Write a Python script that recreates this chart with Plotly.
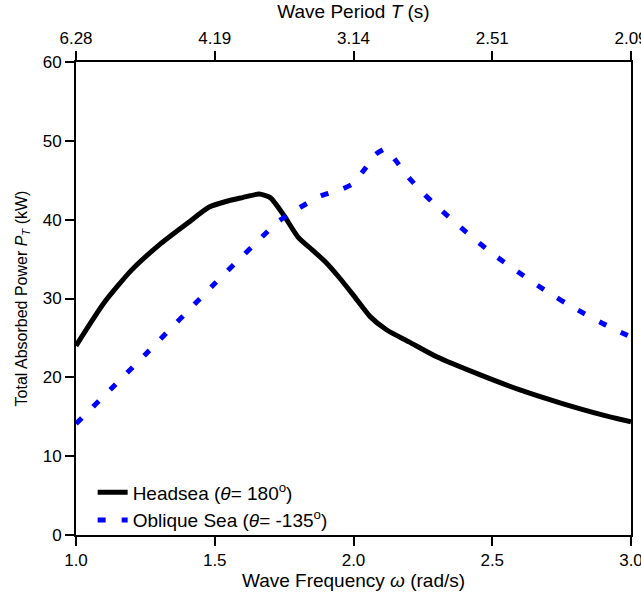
import plotly.graph_objects as go

# ---- data ----
omega_head = [1.0, 1.1, 1.2, 1.3, 1.4, 1.48, 1.55, 1.6, 1.66, 1.7, 1.75, 1.8, 1.85, 1.9,
              1.95, 2.0, 2.06, 2.12, 2.2, 2.3, 2.45, 2.6, 2.75, 2.9, 3.0]
P_head = [24.0, 29.4, 33.6, 36.8, 39.5, 41.6, 42.4, 42.8, 43.25, 42.8, 40.5, 37.8, 36.2, 34.6,
          32.6, 30.4, 27.7, 26.0, 24.5, 22.6, 20.4, 18.4, 16.7, 15.2, 14.35]

omega_obl = [1.0, 1.25, 1.5, 1.67, 1.73, 1.8, 1.88, 1.96, 2.0, 2.04, 2.08, 2.115, 2.15, 2.2,
             2.25, 2.3, 2.4, 2.5, 2.6, 2.7, 2.8, 2.9, 3.0]
P_obl = [14.1, 22.9, 31.9, 37.8, 39.8, 41.4, 43.0, 43.9, 44.6, 46.4, 48.3, 49.0, 47.6, 45.3,
         43.4, 41.7, 38.6, 35.7, 33.2, 30.8, 28.7, 26.8, 25.1]

freq_ticks = [1.0, 1.5, 2.0, 2.5, 3.0]
freq_labels = ["1.0", "1.5", "2.0", "2.5", "3.0"]
period_labels = ["6.28", "4.19", "3.14", "2.51", "2.09"]
power_ticks = [0, 10, 20, 30, 40, 50, 60]

FONT = "Liberation Sans, Arial, sans-serif"

fig = go.Figure()
fig.add_trace(go.Scatter(
    x=omega_head, y=P_head, mode="lines",
    line=dict(color="black", width=5, shape="spline", smoothing=0.6),
    name="Headsea (<i>θ</i>= 180<sup>o</sup>)",
))
fig.add_trace(go.Scatter(
    x=omega_obl, y=P_obl, mode="lines",
    line=dict(color="#0000ff", width=5, dash="8px,16px", shape="spline", smoothing=0.4),
    name="Oblique Sea (<i>θ</i>= -135<sup>o</sup>)",
))
# invisible trace to activate top axis
fig.add_trace(go.Scatter(x=[1.0, 3.0], y=[None, None], xaxis="x2", showlegend=False,
                         hoverinfo="skip"))

axis_common = dict(showline=True, linecolor="black", linewidth=2, ticks="outside",
                   ticklen=9, tickwidth=1.5, tickcolor="black", showgrid=False,
                   zeroline=False, automargin=False, ticklabeloverflow="allow",
                   tickfont=dict(family=FONT, size=17, color="black"))

fig.update_layout(
    width=641, height=595,
    margin=dict(l=76, r=10, t=62, b=60),
    paper_bgcolor="white", plot_bgcolor="white",
    font=dict(family=FONT, size=17, color="black"),
    xaxis=dict(range=[1.0, 3.0], tickvals=freq_ticks, ticktext=freq_labels,
               title=dict(text="Wave Frequency <i>ω</i> (rad/s)",
                          font=dict(family=FONT, size=19), standoff=4),
               **axis_common),
    xaxis2=dict(range=[1.0, 3.0], overlaying="x", side="top", tickvals=freq_ticks,
                ticktext=period_labels,
                title=dict(text="Wave Period <i>T</i> (s)",
                           font=dict(family=FONT, size=19), standoff=6),
                **axis_common),
    yaxis=dict(range=[0, 60], tickvals=power_ticks, mirror=True,
               title=dict(text="Total Absorbed Power <i>P</i><sub><i>T</i></sub> (kW)",
                          font=dict(family=FONT, size=16), standoff=11),
               **axis_common),
    legend=dict(x=0.03, y=0.13, xanchor="left", yanchor="top",
                bgcolor="rgba(0,0,0,0)", font=dict(family=FONT, size=19),
                tracegroupgap=0),
    showlegend=True,
)

fig.write_html("out.html")
